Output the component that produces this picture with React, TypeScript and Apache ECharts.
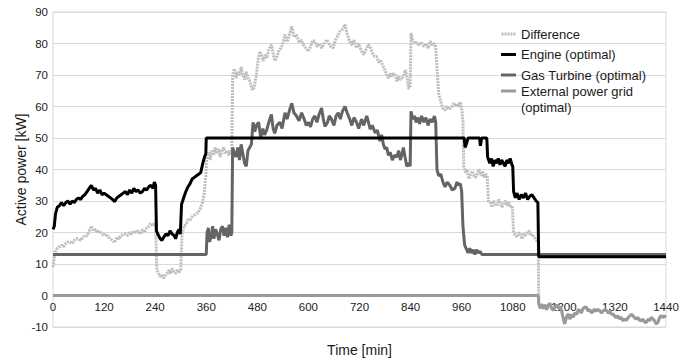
import React, { useEffect, useRef } from "react";
import * as echarts from "echarts";

// Time axis ticks [min]
const xTicks = [0, 120, 240, 360, 480, 600, 720, 840, 960, 1080, 1200, 1320, 1440];
const yTicks = [-10, 0, 10, 20, 30, 40, 50, 60, 70, 80, 90];

// Negative period after 1140 min (shared by difference and grid)
const nightNegative: [number, number][] = [
  [1141, -2.5], [1144, -4], [1148, -2.8], [1152, -4.2], [1156, -3], [1160, -4.5], [1163, -3.2], [1167, -2.5],
  [1171, -4], [1175, -4.7], [1179, -3.5], [1183, -3], [1187, -4], [1191, -3.5], [1195, -5], [1199, -7.5],
  [1202, -9], [1206, -7], [1210, -5.8], [1214, -7.5], [1218, -6], [1222, -6.9], [1226, -5.5], [1230, -6],
  [1234, -4.5], [1237, -4.7], [1241, -5.5], [1245, -4.2], [1249, -3.7], [1253, -3.7], [1257, -5], [1261, -4.5],
  [1265, -5.5], [1268, -5.2], [1272, -4.3], [1276, -5], [1280, -4.5], [1284, -4.7], [1288, -5.5], [1292, -5],
  [1296, -4.5], [1300, -4.7], [1304, -5.5], [1308, -5], [1312, -6], [1315, -5.8], [1319, -6.5], [1323, -7],
  [1327, -6.5], [1331, -7.4], [1335, -7], [1339, -8], [1343, -7.5], [1347, -7.9], [1351, -7], [1355, -6.5],
  [1359, -6], [1362, -6.3], [1366, -7], [1370, -7.5], [1374, -7], [1378, -7.9], [1382, -8], [1386, -7.5],
  [1390, -8.5], [1394, -8.5], [1398, -7.5], [1402, -8], [1405, -7], [1409, -7.4], [1413, -8], [1417, -9],
  [1421, -8.5], [1425, -7], [1429, -6.3], [1433, -7], [1437, -6.5], [1440, -6.9],
];

const difference: [number, number][] = [
  [0, 9], [3, 12], [6, 14], [10, 15], [15, 15.5], [20, 16], [25, 15.5], [30, 16.5], [35, 17], [40, 17], [45, 16.5],
  [50, 17.5], [55, 18], [60, 18], [65, 17.5], [70, 18.5], [75, 19], [80, 19], [85, 20.5], [90, 22], [95, 20.5],
  [100, 21], [105, 20], [110, 20.5], [115, 19.5], [120, 19], [125, 19.5], [130, 18.5], [135, 18], [140, 17.5],
  [145, 16.8], [150, 18.5], [155, 18], [160, 19], [165, 19.5], [170, 19.5], [175, 19], [180, 20], [185, 19.5],
  [190, 20.5], [195, 20], [200, 20.5], [205, 19.5], [210, 21], [215, 20], [220, 21.5], [225, 22], [230, 23],
  [235, 22], [238, 23], [241, 22], [244, 8], [248, 7], [252, 6], [256, 6.5], [260, 5.5], [264, 6.5], [268, 7],
  [272, 8], [276, 7], [280, 8.5], [284, 7.5], [288, 7], [292, 8], [296, 7.5], [300, 8], [303, 19], [307, 22],
  [312, 22.5], [317, 24], [322, 24], [327, 25], [332, 25.5], [337, 26], [342, 26.5], [347, 28], [351, 29.5],
  [355, 32], [359, 38], [361, 44], [365, 45.5], [369, 43], [373, 46], [377, 44.5], [381, 47], [385, 45],
  [389, 46.5], [393, 44], [397, 46], [401, 47], [405, 45], [409, 46], [413, 44.5], [417, 46], [420, 45],
  [422, 70], [426, 72], [430, 69], [434, 71], [438, 70], [442, 72.5], [446, 70], [450, 68.5], [454, 71],
  [458, 69], [463, 68], [467, 65.5], [471, 65.3], [475, 68], [478, 70], [482, 75], [486, 77.5], [490, 76],
  [494, 74.5], [498, 76.5], [502, 75.4], [507, 78], [513, 79.6], [517, 77], [521, 74.5], [525, 75.4], [530, 77.5],
  [536, 78.6], [540, 80], [545, 82.8], [550, 80.5], [556, 83], [561, 85.4], [566, 82], [572, 82.8], [578, 80.5],
  [584, 81], [588, 79.6], [594, 78.5], [600, 77.5], [605, 79], [610, 81], [615, 80.7], [620, 79], [625, 80],
  [631, 78.6], [637, 80], [643, 81.2], [648, 80], [653, 79], [658, 78.6], [663, 81], [669, 82.5], [674, 83.9],
  [680, 84.5], [686, 86], [691, 83], [697, 80.7], [702, 79.5], [707, 81], [713, 78.6], [718, 80], [725, 77.5],
  [730, 76.5], [735, 78], [741, 79.6], [745, 79], [750, 77], [755, 76], [760, 75.9], [765, 74], [770, 74.5],
  [776, 72.7], [780, 71.5], [784, 70], [788, 69], [792, 70.5], [796, 69.5], [800, 70.5], [804, 70], [808, 68],
  [812, 69.5], [816, 68.5], [820, 69], [824, 70], [828, 71.6], [832, 69], [835, 65.8], [839, 66], [841, 83.3],
  [845, 81], [850, 80], [855, 80.2], [860, 79.5], [865, 80.5], [871, 79], [876, 80], [881, 78.5], [886, 80.7],
  [891, 79.5], [896, 80], [899, 79], [902, 72], [906, 64], [910, 62], [914, 60], [918, 59], [921, 58.9],
  [925, 60], [930, 59], [937, 60], [942, 61], [946, 60], [949, 61], [953, 60], [957, 61.5], [960, 59.5],
  [963, 55], [965, 41], [969, 39], [973, 40], [977, 37], [981, 38.5], [985, 39.5], [989, 38], [993, 37.5],
  [997, 39], [1001, 40], [1005, 38], [1009, 39.5], [1013, 37.5], [1017, 38.5], [1020, 38], [1023, 30],
  [1027, 29.5], [1031, 28], [1035, 30], [1039, 29], [1043, 28.5], [1047, 30.5], [1051, 29], [1055, 28],
  [1059, 29.5], [1063, 30], [1067, 28.5], [1071, 29.5], [1075, 28], [1079, 28.5], [1082, 20], [1086, 19],
  [1090, 18.5], [1094, 20], [1098, 19.5], [1102, 18], [1106, 19.5], [1110, 19], [1114, 20], [1118, 20.5],
  [1122, 19], [1126, 19.5], [1130, 18.5], [1134, 18], [1138, 17], [1140, 17],
  ...nightNegative,
];

const engine: [number, number][] = [
  [0, 21], [3, 22], [6, 26], [10, 28], [15, 28.5], [20, 29.5], [25, 28.5], [30, 29.5], [35, 30], [40, 29],
  [45, 30], [50, 29.5], [55, 30.5], [60, 31], [65, 30.5], [70, 31.5], [75, 32], [80, 33], [85, 34], [90, 35],
  [95, 33.5], [100, 34], [105, 32.5], [110, 33.5], [115, 32], [120, 32.5], [125, 32], [130, 31.5], [135, 31],
  [140, 30.5], [145, 29.8], [150, 31], [155, 31.5], [160, 32], [165, 32.5], [170, 33], [175, 32], [180, 33.5],
  [185, 32.5], [190, 34], [195, 33], [200, 33.5], [205, 32.5], [210, 33], [215, 34], [220, 33.5], [225, 34.5],
  [230, 35], [235, 34], [238, 36], [241, 35], [243, 20.5], [248, 19], [252, 18], [256, 17.5], [260, 18.5],
  [265, 19.5], [270, 19], [275, 20.5], [280, 19.5], [285, 19], [288, 18], [292, 20], [296, 21], [299, 19.5],
  [302, 29], [307, 31], [312, 33], [317, 34.5], [322, 35.5], [327, 37], [332, 37.5], [337, 38], [342, 38.5],
  [347, 39], [352, 42], [356, 44], [359, 45], [360, 50], [966, 50], [968, 47], [972, 48.5], [975, 50],
  [1002, 50], [1004, 47.5], [1007, 50], [1019, 50], [1021, 44], [1026, 42], [1030, 43.5], [1034, 41],
  [1038, 43], [1042, 42], [1046, 43.5], [1050, 41.5], [1054, 43], [1058, 42], [1062, 41], [1066, 43],
  [1070, 42], [1074, 43.5], [1078, 41.5], [1080, 41], [1082, 33], [1086, 31], [1090, 32.5], [1095, 30.5],
  [1100, 32], [1105, 31], [1110, 32.5], [1115, 30.5], [1120, 31.5], [1125, 32], [1130, 31], [1135, 30],
  [1139, 29.5], [1141, 12.3], [1440, 12.3],
];

const gasTurbine: [number, number][] = [
  [0, 13], [360, 13], [362, 20], [365, 21.5], [368, 17], [372, 19], [375, 22], [378, 18], [382, 21],
  [386, 19.5], [390, 17.5], [394, 21], [398, 22], [402, 19], [406, 21.5], [410, 18.5], [414, 22.5], [418, 19],
  [420, 20], [422, 47], [426, 45], [430, 44], [434, 47], [438, 43], [442, 48], [446, 45], [450, 42], [454, 41],
  [458, 46], [462, 47], [466, 48], [470, 55], [474, 52], [478, 54], [483, 55], [488, 50], [493, 53], [497, 51],
  [502, 52.5], [507, 55], [513, 57.5], [517, 53], [521, 51.5], [526, 54], [533, 55], [538, 53], [545, 58],
  [550, 56], [556, 59], [561, 61], [566, 58], [572, 57], [578, 55.5], [584, 58], [590, 56], [595, 54],
  [600, 55], [605, 53.5], [610, 56], [615, 57], [620, 55], [625, 57.5], [631, 59.5], [635, 56], [639, 53.7],
  [645, 55], [649, 57], [654, 56], [660, 54], [665, 57], [670, 58], [675, 56], [680, 58.5], [686, 60],
  [691, 58], [697, 56], [702, 54], [707, 56.5], [713, 55], [718, 53], [725, 56], [730, 54], [737, 57],
  [741, 55], [745, 52.8], [750, 54], [757, 51.6], [762, 52.5], [768, 49], [772, 51], [776, 48], [780, 46.5],
  [784, 47], [788, 44.5], [792, 45.5], [797, 43], [802, 44.5], [808, 44], [812, 46], [816, 43], [820, 45],
  [823, 47], [827, 44], [831, 41], [836, 42], [839, 41], [841, 58.5], [845, 56], [849, 57], [853, 55],
  [857, 56.5], [861, 54.5], [866, 57], [871, 55], [876, 56.5], [881, 54], [886, 56], [891, 55], [896, 57],
  [899, 55], [902, 40], [906, 38], [911, 38.5], [916, 36], [921, 34.5], [926, 36], [932, 35], [938, 33.5],
  [944, 34], [949, 36], [953, 35], [957, 35.5], [960, 33], [963, 22], [967, 16], [972, 14.5], [975, 13.5],
  [979, 15], [983, 13.5], [987, 14.5], [991, 13], [995, 14.5], [999, 13.5], [1003, 14], [1008, 13], [1440, 13],
];

const externalGrid: [number, number][] = [[0, 0], [1140, 0], ...nightNegative];

const FONT = "Liberation Sans";
const TICK_FONT = "'Liberation Sans Narrow', 'Liberation Sans', sans-serif";
const DOTTED_ICON = "path://M0,0h2v3h-2zM3,0h2v3h-2zM6,0h2v3h-2zM9,0h2v3h-2zM12,0h2v3h-2z";
const GRID_TOP = 12;
const GRID_BOTTOM = 34;
const CHART_H = 361;

export default function App() {
  const ref = useRef<HTMLDivElement>(null);
  useEffect(() => {
    if (!ref.current) return;
    const chart = echarts.init(ref.current, undefined, { renderer: "svg" });
    const splitColors = yTicks.map((v) => (v === 0 ? "rgba(0,0,0,0)" : "#d9d9d9"));
    const legendText = { fontFamily: FONT, fontSize: 13, color: "#1a1a1a", lineHeight: 16 };
    // place the time axis where the power is zero (distance of 0 from the bottom of the plot)
    const plotH = CHART_H - GRID_TOP - GRID_BOTTOM;
    const yMin = yTicks[0];
    const yMax = yTicks[yTicks.length - 1];
    const zeroOffset = -((0 - yMin) / (yMax - yMin)) * plotH;
    chart.setOption({
      animation: false,
      textStyle: { fontFamily: FONT },
      grid: {
        left: 53,
        right: 23,
        top: GRID_TOP,
        bottom: GRID_BOTTOM,
        outerBoundsMode: "none",
        containLabel: false,
        show: true,
        borderColor: "#d9d9d9",
        borderWidth: 1,
      },
      legend: [
        {
          data: [
            { name: "Difference", icon: DOTTED_ICON },
            { name: "Engine (optimal)", icon: "rect" },
            { name: "Gas Turbine (optimal)", icon: "rect" },
          ],
          orient: "vertical",
          left: 501,
          top: 26,
          itemWidth: 15,
          itemHeight: 3,
          itemGap: 4.5,
          padding: 0,
          textStyle: legendText,
        },
        {
          data: [{ name: "External power grid (optimal)", icon: "rect" }],
          orient: "vertical",
          left: 501,
          top: 83,
          itemWidth: 15,
          itemHeight: 3,
          padding: 0,
          formatter: () => "External power grid",
          textStyle: legendText,
        },
      ],
      graphic: [
        {
          type: "text",
          left: 521,
          top: 101,
          z: 100,
          style: { text: "(optimal)", fontFamily: FONT, fontSize: 13, fill: "#1a1a1a" },
        },
      ],
      xAxis: {
        type: "value",
        min: xTicks[0],
        max: xTicks[xTicks.length - 1],
        interval: 120,
        name: "Time [min]",
        nameLocation: "middle",
        nameGap: 47,
        nameMoveOverlap: false,
        nameTextStyle: { fontFamily: FONT, fontSize: 14, color: "#1a1a1a" },
        offset: zeroOffset,
        axisLine: { show: false, onZero: false },
        axisTick: { show: false },
        axisLabel: {
          fontFamily: TICK_FONT,
          fontSize: 11.5,
          color: "#222",
          margin: 5,
          formatter: (v: number) => String(v),
        },
        splitLine: { show: false },
      },
      yAxis: {
        type: "value",
        min: yMin,
        max: yMax,
        interval: 10,
        name: "Active power [kW]",
        nameLocation: "middle",
        nameGap: 25,
        nameMoveOverlap: false,
        nameTextStyle: { fontFamily: FONT, fontSize: 14, color: "#1a1a1a" },
        axisLine: { show: false },
        axisTick: { show: false },
        axisLabel: {
          fontFamily: TICK_FONT,
          fontSize: 11.5,
          color: "#222",
          margin: 5,
          formatter: (v: number) => String(v),
        },
        splitLine: { show: true, lineStyle: { color: splitColors, width: 1 } },
      },
      series: [
        {
          name: "Difference",
          type: "line",
          data: difference,
          showSymbol: false,
          symbol: "none",
          lineStyle: { color: "#bdbdbd", width: 3, type: [2, 1] },
          itemStyle: { color: "#bdbdbd" },
          z: 1,
        },
        {
          name: "External power grid (optimal)",
          type: "line",
          data: externalGrid,
          showSymbol: false,
          symbol: "none",
          lineStyle: { color: "#9a9a9a", width: 3 },
          itemStyle: { color: "#9a9a9a" },
          z: 2,
        },
        {
          name: "Gas Turbine (optimal)",
          type: "line",
          data: gasTurbine,
          showSymbol: false,
          symbol: "none",
          lineStyle: { color: "#646464", width: 3 },
          itemStyle: { color: "#646464" },
          z: 3,
        },
        {
          name: "Engine (optimal)",
          type: "line",
          data: engine,
          showSymbol: false,
          symbol: "none",
          lineStyle: { color: "#000000", width: 3 },
          itemStyle: { color: "#000000" },
          z: 4,
        },
      ],
    });
    return () => chart.dispose();
  }, []);
  return <div ref={ref} style={{ width: 689, height: 361, position: "absolute", left: 0, top: 0 }} />;
}
